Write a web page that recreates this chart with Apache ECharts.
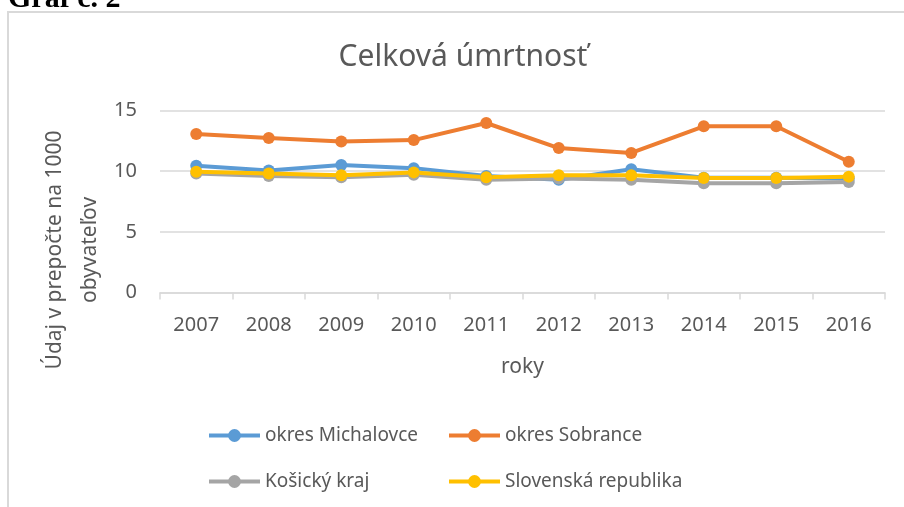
<!DOCTYPE html>
<html>
<head>
<meta charset="utf-8">
<script src="https://cdn.jsdelivr.net/npm/echarts@6/dist/echarts.min.js"></script>
<style>
  html, body { margin: 0; padding: 0; background: #fff; }
  #chart { width: 904px; height: 507px; }
</style>
</head>
<body>
<div id="chart"></div>
<script>
const years = ['2007', '2008', '2009', '2010', '2011', '2012', '2013', '2014', '2015', '2016']
const michalovce = [10.45, 10.05, 10.5, 10.25, 9.6, 9.3, 10.15, 9.45, 9.45, 9.4]
const sobrance = [13.06, 12.73, 12.45, 12.56, 13.97, 11.9, 11.5, 13.7, 13.7, 10.77]
const kosickyKraj = [9.8, 9.6, 9.5, 9.7, 9.3, 9.4, 9.3, 9.0, 9.0, 9.1]
const slovensko = [9.95, 9.8, 9.67, 9.9, 9.5, 9.67, 9.67, 9.43, 9.43, 9.55]

const textColor = '#595959'
const gridColor = '#d9d9d9'
const font = 'Noto Sans'

const chart = echarts.init(document.getElementById('chart'))

// jedna seria ciary, rovnaky styl pre vsetky
const makeSeries = (name, data, color) => ({
  name,
  type: 'line',
  data,
  symbol: 'circle',
  symbolSize: 12,
  lineStyle: { width: 4, color },
  itemStyle: { color },
  emphasis: { disabled: true }
})

// legenda 2x2 - kazda polozka zvlast, aby stlpce sedeli
const makeLegend = (name, left, top) => ({
  left,
  top,
  data: [name],
  orient: 'horizontal',
  padding: 0,
  itemWidth: 51,
  itemHeight: 16,
  selectedMode: false,
  lineStyle: { width: 4 },
  textStyle: {
    fontFamily: font,
    fontSize: 19,
    color: textColor
  }
})

const option = {
  animation: false,
  backgroundColor: '#fff',
  title: {
    text: 'Celková úmrtnosť',
    left: 458,
    top: 37,
    textAlign: 'center',
    textStyle: {
      fontFamily: font,
      fontSize: 30,
      fontWeight: 'normal',
      color: textColor
    }
  },
  graphic: [
    {
      type: 'rect',
      shape: { x: 8, y: 12, width: 1200, height: 1000 },
      style: { fill: 'none', stroke: '#d9d9d9', lineWidth: 2 },
      silent: true
    },
    {
      type: 'text',
      x: 8,
      y: 14,
      style: {
        text: 'Graf č. 2',
        fontFamily: 'Liberation Serif',
        fontWeight: 'bold',
        fontSize: 30,
        fill: '#000',
        textVerticalAlign: 'bottom'
      },
      silent: true
    },
    {
      type: 'text',
      x: 73,
      y: 250,
      rotation: Math.PI / 2,
      style: {
        text: 'Údaj v prepočte na 1000\nobyvateľov',
        fontFamily: font,
        fontSize: 21,
        lineHeight: 35,
        fill: textColor,
        textAlign: 'center',
        textVerticalAlign: 'middle'
      },
      silent: true
    }
  ],
  legend: [
    makeLegend('okres Michalovce', 207, 426),
    makeLegend('okres Sobrance', 447, 426),
    makeLegend('Košický kraj', 207, 472),
    makeLegend('Slovenská republika', 447, 472)
  ],
  grid: {
    left: 160,
    right: 19,
    top: 110.5,
    bottom: 214.5
  },
  xAxis: {
    type: 'category',
    data: years,
    boundaryGap: true,
    name: 'roky',
    nameLocation: 'middle',
    nameGap: 64,
    nameTextStyle: { fontFamily: font, fontSize: 21, color: textColor },
    axisLine: { lineStyle: { color: gridColor, width: 1.5 } },
    axisTick: { show: true, length: 7, lineStyle: { color: gridColor, width: 1.5 } },
    axisLabel: { fontFamily: font, fontSize: 20, color: textColor, margin: 23 }
  },
  yAxis: {
    type: 'value',
    min: 0,
    max: 15,
    interval: 5,
    axisLine: { show: false },
    axisTick: { show: false },
    axisLabel: { fontFamily: font, fontSize: 20, color: textColor, margin: 23 },
    splitLine: { lineStyle: { color: gridColor, width: 1.5 } }
  },
  series: [
    makeSeries('okres Michalovce', michalovce, '#5B9BD5'),
    makeSeries('okres Sobrance', sobrance, '#ED7D31'),
    makeSeries('Košický kraj', kosickyKraj, '#A5A5A5'),
    makeSeries('Slovenská republika', slovensko, '#FFC000')
  ]
}

chart.setOption(option)
</script>
</body>
</html>
